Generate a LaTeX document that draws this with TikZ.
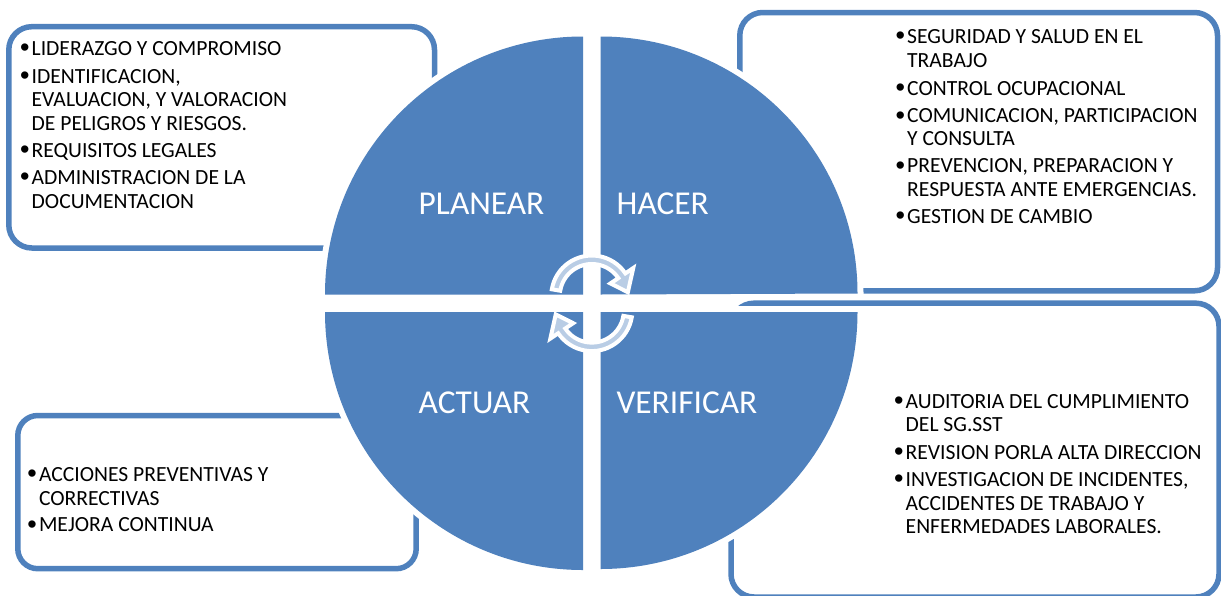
\documentclass[tikz,border=0pt]{standalone}
\usepackage{fontspec}
\setmainfont{Carlito}
\newfontfamily\bulfont{Liberation Sans}
\definecolor{smblue}{RGB}{79,129,189}
\definecolor{arrowfill}{RGB}{185,205,229}
\newcommand{\bul}{\llap{\raisebox{-1.3pt}{\bulfont\fontsize{27}{27}\selectfont\textbullet}\hspace{2.2pt}}}
\begin{document}
\begin{tikzpicture}[x=1pt,y=1pt,yscale=-1]
\tikzset{
  box/.style={draw=smblue, line width=5.5pt, rounded corners=23pt, inner sep=0pt},
  under/.style={fill=white, draw=white, line width=12pt},
  quad/.style={fill=smblue},
  lbl/.style={anchor=base west, inner sep=0pt, text=white, font=\fontsize{33.4}{40}\selectfont},
  txt/.style={anchor=base west, inner sep=0pt, font=\fontsize{21.6}{23.4}\selectfont},
  arr/.style={fill=arrowfill, draw=white, line width=4pt, line join=miter}
}
\useasboundingbox (0,0) rectangle (1221,595);
\clip (0,0) rectangle (1221,595);

% boxes
\node[box, minimum width=425.7pt, minimum height=221.3pt] (b1) at (221.65,137.35) {};
\node[box, minimum width=477.7pt, minimum height=278.3pt] (b2) at (978.65,151.65) {};
\node[box, minimum width=488pt, minimum height=293.8pt] (b3) at (975,450.1) {};
\node[box, rounded corners=20pt, minimum width=398.4pt, minimum height=153.2pt] (b4) at (217,492.1) {};

% white underlay of the circle
\path[under] (583,294.5) -- (325,294.5) arc[start angle=180, end angle=270, radius=258] -- cycle;
\path[under] (600.5,294.5) -- (600.5,36.5) arc[start angle=270, end angle=360, radius=257] -- cycle;
\path[under] (583,312) -- (583,570) arc[start angle=90, end angle=180, radius=258] -- cycle;
\path[under] (600.5,312) -- (857.5,312) arc[start angle=0, end angle=90, radius=257] -- cycle;
% quadrants
\path[quad] (583,294.5) -- (325,294.5) arc[start angle=180, end angle=270, radius=258] -- cycle;
\path[quad] (600.5,294.5) -- (600.5,36.5) arc[start angle=270, end angle=360, radius=257] -- cycle;
\path[quad] (583,312) -- (583,570) arc[start angle=90, end angle=180, radius=258] -- cycle;
\path[quad] (600.5,312) -- (857.5,312) arc[start angle=0, end angle=90, radius=257] -- cycle;

% quadrant labels
\node[lbl] (planear) at (418.5,214) {PLANEAR};
\node[lbl] (hacer) at (616.5,214) {HACER};
\node[lbl] (actuar) at (418.5,413.3) {ACTUAR};
\node[lbl] (verificar) at (616.3,413.3) {VERIFICAR};

% circular arrows
\begin{scope}[shift={(591.8,296)}]
\path[arr] (189.5:40.5) arc[start angle=189.5, end angle=326, radius=40.5]
  -- (326:50) -- (354:36.25) -- (326:22.5) -- (326:32)
  arc[start angle=326, end angle=189.5, radius=32] -- cycle;
\end{scope}
\begin{scope}[shift={(591.8,310.6)}]
\path[arr] (9.5:40.5) arc[start angle=9.5, end angle=146, radius=40.5]
  -- (146:50) -- (174:36.25) -- (146:22.5) -- (146:32)
  arc[start angle=146, end angle=9.5, radius=32] -- cycle;
\end{scope}

% box 1 text
\node[txt] (t11) at (31.5,55) {\bul LIDERAZGO Y COMPROMISO};
\node[txt] (t12) at (31.5,83.3) {\bul IDENTIFICACION,};
\node[txt] (t13) at (31.5,106.7) {EVALUACION, Y VALORACION};
\node[txt] (t14) at (31.5,130) {DE PELIGROS Y RIESGOS.};
\node[txt] (t15) at (31.5,157.3) {\bul REQUISITOS LEGALES};
\node[txt] (t16) at (31.5,184.3) {\bul ADMINISTRACION DE LA};
\node[txt] (t17) at (31.5,208.3) {DOCUMENTACION};

% box 2 text
\node[txt] (t21) at (907,43.3) {\bul SEGURIDAD Y SALUD EN EL};
\node[txt] (t22) at (907,67.7) {TRABAJO};
\node[txt] (t23) at (907,95) {\bul CONTROL OCUPACIONAL};
\node[txt] (t24) at (907,122.7) {\bul COMUNICACION, PARTICIPACION};
\node[txt] (t25) at (907,145.7) {Y CONSULTA};
\node[txt] (t26) at (907,172.7) {\bul PREVENCION, PREPARACION Y};
\node[txt] (t27) at (907,196.7) {RESPUESTA ANTE EMERGENCIAS.};
\node[txt] (t28) at (907,223.3) {\bul GESTION DE CAMBIO};

% box 3 text
\node[txt] (t31) at (905.5,408.3) {\bul AUDITORIA DEL CUMPLIMIENTO};
\node[txt] (t32) at (905.5,431.7) {DEL SG.SST};
\node[txt] (t33) at (905.5,459.3) {\bul REVISION PORLA ALTA DIRECCION};
\node[txt] (t34) at (905.5,486) {\bul INVESTIGACION DE INCIDENTES,};
\node[txt] (t35) at (905.5,510) {ACCIDENTES DE TRABAJO Y};
\node[txt] (t36) at (905.5,533.3) {ENFERMEDADES LABORALES.};

% box 4 text
\node[txt] (t41) at (38.8,481) {\bul ACCIONES PREVENTIVAS Y};
\node[txt] (t42) at (38.8,505) {CORRECTIVAS};
\node[txt] (t43) at (38.8,531.7) {\bul MEJORA CONTINUA};
\end{tikzpicture}
\end{document}
